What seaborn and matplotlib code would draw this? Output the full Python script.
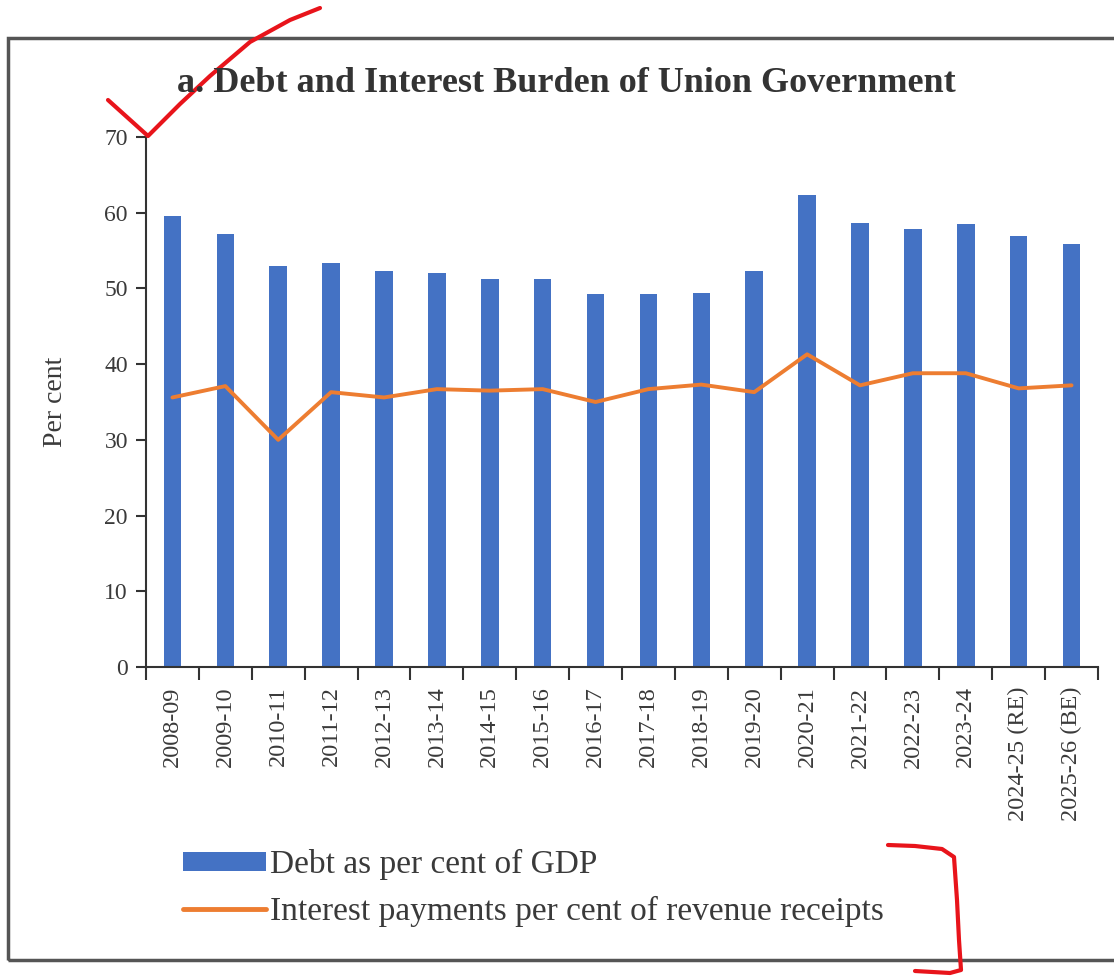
import numpy as np
import pandas as pd
import matplotlib
matplotlib.use("Agg")
import matplotlib.pyplot as plt
import seaborn as sns
from matplotlib.lines import Line2D
from matplotlib.patches import Rectangle, Patch
from matplotlib.ticker import FixedLocator

years = ["2008-09", "2009-10", "2010-11", "2011-12", "2012-13", "2013-14",
         "2014-15", "2015-16", "2016-17", "2017-18", "2018-19", "2019-20",
         "2020-21", "2021-22", "2022-23", "2023-24", "2024-25 (RE)", "2025-26 (BE)"]
debt_gdp = [59.6, 57.2, 53.0, 53.3, 52.3, 52.0, 51.3, 51.3, 49.3, 49.2, 49.4,
            52.3, 62.4, 58.6, 57.8, 58.5, 56.9, 55.9]
interest_rr = [35.6, 37.1, 30.0, 36.3, 35.6, 36.7, 36.5, 36.7, 35.0, 36.7, 37.3,
               36.3, 41.3, 37.2, 38.8, 38.8, 36.8, 37.2]
yticks = [0, 10, 20, 30, 40, 50, 60, 70]

title = "a. Debt and Interest Burden of Union Government"
ylabel = "Per cent"
bar_label = "Debt as per cent of GDP"
line_label = "Interest payments per cent of revenue receipts"

blue = "#4472C4"
orange = "#ED7D31"
txt = "#3a3a3a"

sns.set_theme(style="white")
plt.rcParams["font.family"] = ["Liberation Serif", "DejaVu Serif"]

W, H = 1114, 977
fig = plt.figure(figsize=(W / 100, H / 100), dpi=100)
ax = fig.add_axes([146 / W, 1 - 667 / H, (1098 - 146) / W, (667 - 137) / H])

df = pd.DataFrame({"year": years, "debt": debt_gdp, "interest": interest_rr})
df["pos"] = np.arange(len(df))

sns.barplot(data=df, x="year", y="debt", color=blue, width=0.33, ax=ax,
            saturation=1, linewidth=0)
sns.lineplot(data=df, x="pos", y="interest", color=orange, linewidth=2.8, ax=ax)

ax.set_xlim(-0.5, len(years) - 0.5)
ax.set_ylim(0, 70)
ax.set_yticks(yticks)
ax.set_yticklabels([str(v) for v in yticks], fontsize=17, color=txt)
ax.set_xticks(np.arange(len(years)))
ax.set_xticklabels(years, rotation=90, fontsize=17.5, color=txt)
ax.xaxis.set_minor_locator(FixedLocator(np.arange(len(years) + 1) - 0.5))
ax.tick_params(axis="x", which="major", length=0, pad=14)
ax.tick_params(axis="x", which="minor", length=9, width=1.5, color="#333333", bottom=True, direction="out")
ax.tick_params(axis="y", which="major", length=7, width=1.5, color="#333333", left=True, direction="out", pad=6)
ax.set_xlabel("")
ax.set_ylabel(ylabel, fontsize=20, color=txt, labelpad=26)
for s in ["top", "right"]:
    ax.spines[s].set_visible(False)
for s in ["left", "bottom"]:
    ax.spines[s].set_color("#333333")
    ax.spines[s].set_linewidth(1.5)
ax.grid(False)

fig.text(566 / W, 1 - 84 / H, title, ha="center", va="center", fontsize=26,
         fontweight="bold", color="#333333")

handles = [Patch(facecolor=blue, edgecolor="none"),
           Line2D([0], [0], color=orange, linewidth=3.5)]
fig.legend(handles, [bar_label, line_label], loc="center left",
           bbox_to_anchor=(153 / W, 1 - 888 / H), frameon=False, fontsize=24,
           handlelength=2.5, handleheight=0.5, handletextpad=0.1, labelspacing=0.45,
           labelcolor=txt)

# outer frame
fig.add_artist(Rectangle((8 / W, 1 - 960 / H), (W + 10) / W, (960 - 38) / H,
                         transform=fig.transFigure, fill=False,
                         edgecolor="#555555", linewidth=2.5))

# red hand-drawn annotations
def fpath(pts):
    xs = [p[0] / W for p in pts]
    ys = [1 - p[1] / H for p in pts]
    return Line2D(xs, ys, transform=fig.transFigure, color="#E8141B",
                  linewidth=3, solid_capstyle="round", solid_joinstyle="round")

fig.add_artist(fpath([(108, 100), (128, 118), (148, 136), (180, 104), (210, 76), (250, 42), (290, 20), (320, 8)]))
fig.add_artist(fpath([(888, 845), (915, 846), (942, 849), (954, 857), (957, 900), (959, 940), (961, 970), (950, 973), (915, 971)]))

fig.savefig("out.png", dpi=100, facecolor="white")
